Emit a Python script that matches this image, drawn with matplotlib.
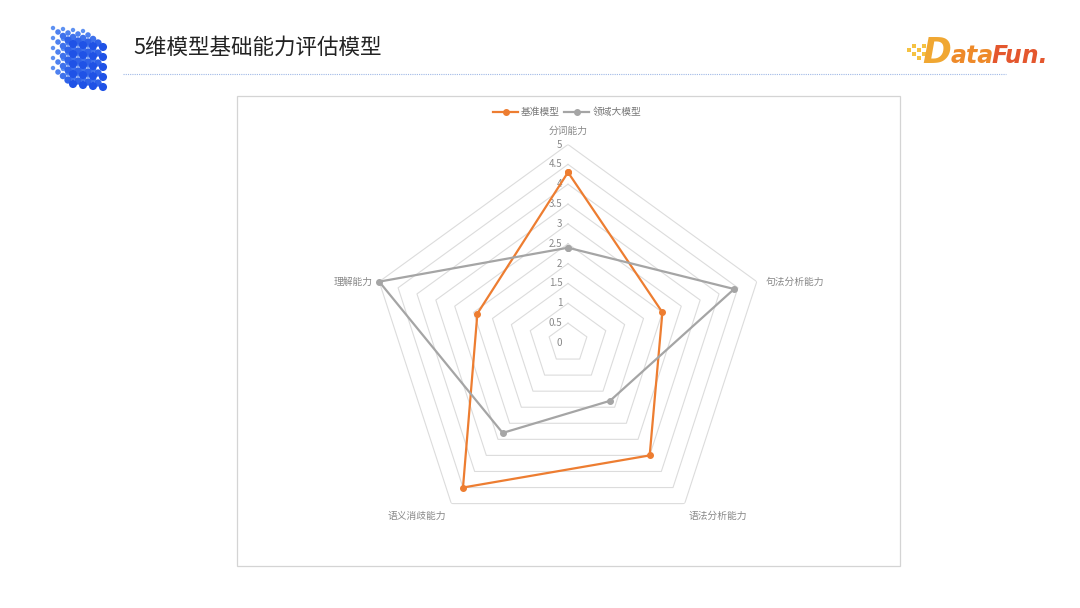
import numpy as np
import matplotlib
matplotlib.use('Agg')
import matplotlib.pyplot as plt
from matplotlib.patches import Rectangle

plt.rcParams['font.family'] = ['Noto Sans CJK SC', 'DejaVu Sans']

# 数据
categories = ['分词能力', '句法分析能力', '语法分析能力', '语义消歧能力', '理解能力']
base_model = [4.3, 2.5, 3.5, 4.5, 2.4]
domain_model = [2.4, 4.4, 1.8, 2.8, 5.0]
levels = [0, 0.5, 1, 1.5, 2, 2.5, 3, 3.5, 4, 4.5, 5]
series_names = ['基准模型', '领域大模型']
series_colors = ['#ED7D31', '#A5A5A5']

W, H = 1080, 608
fig = plt.figure(figsize=(W / 100, H / 100), dpi=100)

# 背景层（像素坐标）
bg = fig.add_axes([0, 0, 1, 1])
bg.set_xlim(0, W)
bg.set_ylim(H, 0)
bg.axis('off')

# 标题
bg.text(133, 48, '5维模型基础能力评估模型', fontsize=15.5, color='#222222',
        ha='left', va='center')
bg.plot([123, 1006], [74, 74], color='#9fb8e6', lw=0.8, ls=(0, (1, 1)))

# 左侧立方体图标
for k in range(4, -1, -1):
    for j in range(5):
        for i in range(4):
            x = 73 + 10 * i - 5 * k
            y = 44 + 10 * j - 4 * k + 1.0 * i
            s = 34 - 6 * k
            t = k / 4
            col = (0.12 + 0.25 * t, 0.32 + 0.25 * t, 0.90 + 0.05 * t)
            bg.scatter(x, y, s=s, color=col, edgecolors='none', zorder=3)

# DataFun 标志
sq = [(907, 48), (912, 44), (912, 52), (917, 48), (917, 56), (922, 44), (922, 52)]
for (x, y) in sq:
    bg.add_patch(Rectangle((x, y), 3.5, 3.5, color='#F5C242', lw=0))
bg.text(922, 63, 'D', fontsize=25, fontweight='bold', style='italic',
        color='#F0A732', ha='left', va='baseline', family='DejaVu Sans')
bg.text(951, 63, 'ata', fontsize=17, fontweight='bold', style='italic',
        color='#EE8A2A', ha='left', va='baseline', family='DejaVu Sans')
bg.text(991, 63, 'Fun.', fontsize=17, fontweight='bold', style='italic',
        color='#E4572E', ha='left', va='baseline', family='DejaVu Sans')

# 图表边框
bg.add_patch(Rectangle((237, 96), 663, 470, fill=False, ec='#d4d4d4', lw=0.9))

# 雷达图
cx, cy, R = 568, 343, 198.5
ax = fig.add_axes([(cx - R) / W, (H - cy - R) / H, 2 * R / W, 2 * R / H],
                  projection='polar')
ax.set_theta_offset(np.pi / 2)
ax.set_theta_direction(-1)
ax.set_ylim(0, 5)
ax.grid(False)
ax.spines['polar'].set_visible(False)
ax.set_xticks([])
ax.set_yticks([])
ax.patch.set_alpha(0)

n = len(categories)
angles = np.linspace(0, 2 * np.pi, n, endpoint=False)
closed = np.concatenate([angles, angles[:1]])

for lv in levels[1:]:
    ax.plot(closed, [lv] * (n + 1), color='#dcdcdc', lw=0.8, zorder=1)

for lv in levels:
    ax.annotate(f'{lv:g}', xy=(0, lv), xytext=(-4, 0), textcoords='offset points',
                ha='right', va='center', fontsize=7, color='#888888', zorder=2)

label_offsets = [((0, 9.5), 'center'), ((6, 0), 'left'), ((3, -9), 'left'),
                 ((-3.5, -9), 'right'), ((-5, 0), 'right')]
for ang, name, (off, ha) in zip(angles, categories, label_offsets):
    ax.annotate(name, xy=(ang, 5), xytext=off, textcoords='offset points',
                ha=ha, va='center', fontsize=7, color='#888888')

for vals, name, col in zip([base_model, domain_model], series_names, series_colors):
    v = list(vals) + [vals[0]]
    ax.plot(closed, v, color=col, lw=1.6, marker='o', markersize=4,
            label=name, zorder=4, clip_on=False)

fig.legend(loc='center', bbox_to_anchor=(567 / W, 1 - 112 / H), ncol=2,
           frameon=False, fontsize=7, handlelength=2.6, handletextpad=0.3,
           columnspacing=0.4, labelcolor='#777777')

fig.savefig('out.png', dpi=100)
